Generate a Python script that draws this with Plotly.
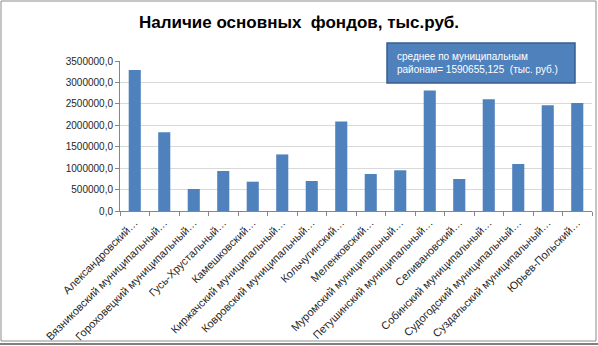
import plotly.graph_objects as go

# Муниципальные районы и наличие основных фондов, тыс. руб.
districts = [
    "Александровский…",
    "Вязниковский муниципальный…",
    "Гороховецкий муниципальный…",
    "Гусь-Хрустальный…",
    "Камешковский…",
    "Киржачский муниципальный…",
    "Ковровский муниципальный…",
    "Кольчугинский…",
    "Меленковский…",
    "Муромский муниципальный…",
    "Петушинский муниципальный…",
    "Селивановский…",
    "Собинский муниципальный…",
    "Судогодский муниципальный…",
    "Суздальский муниципальный…",
    "Юрьев-Польский…",
]
fixed_assets = [
    3290000, 1836000, 513000, 933000, 684000, 1320000, 700000, 2090000,
    863000, 950000, 2810000, 747000, 2610000, 1097000, 2470000, 2520000,
]
y_ticks = [0, 500000, 1000000, 1500000, 2000000, 2500000, 3000000, 3500000]
y_tick_labels = ["0,0", "500000,0", "1000000,0", "1500000,0", "2000000,0",
                 "2500000,0", "3000000,0", "3500000,0"]
mean_note = "среднее по муниципальным<br>районам= 1590655,125  (тыс. руб.)"

W, H = 598, 346
L, R, T, B = 120, 6, 61, 135
pw, ph = W - L - R, H - T - B


def px_x(x):
    return (x - L) / pw


def px_y(y):
    return (H - B - y) / ph


FONT = "Liberation Sans"

fig = go.Figure(
    go.Bar(
        x=districts,
        y=fixed_assets,
        marker=dict(color="#4F81BD", line=dict(width=0)),
    )
)

fig.update_layout(
    width=W,
    height=H,
    margin=dict(l=L, r=R, t=T, b=B),
    paper_bgcolor="white",
    plot_bgcolor="white",
    bargap=0.59,
    showlegend=False,
    font=dict(family=FONT, color="#404040", size=10),
    title=dict(
        text="<b>Наличие основных  фондов, тыс.руб.</b>",
        x=0.5,
        xref="container",
        xanchor="center",
        y=1 - 22 / H,
        yanchor="middle",
        font=dict(family=FONT, size=17, color="black"),
    ),
    xaxis=dict(
        type="category",
        tickangle=-45,
        tickson="boundaries",
        ticks="outside",
        ticklen=4,
        tickcolor="#868686",
        showline=True,
        linecolor="#868686",
        linewidth=1,
        showgrid=False,
        automargin=False,
        tickfont=dict(family=FONT, size=11, color="#262626"),
    ),
    yaxis=dict(
        range=[0, 3500000],
        tickvals=y_ticks,
        ticktext=y_tick_labels,
        ticks="outside",
        ticklen=4,
        tickcolor="#868686",
        showline=True,
        linecolor="#868686",
        linewidth=1,
        showgrid=True,
        gridcolor="#D9D9D9",
        gridwidth=1,
        zeroline=False,
        automargin=False,
        tickfont=dict(family=FONT, size=10, color="#262626"),
    ),
    shapes=[
        # рамка области диаграммы
        dict(type="rect", xref="paper", yref="paper",
             x0=px_x(1), x1=px_x(596), y0=px_y(341), y1=px_y(1),
             line=dict(color="#8C8C8C", width=1), fillcolor="rgba(0,0,0,0)",
             layer="below"),
        dict(type="line", xref="paper", yref="paper",
             x0=px_x(0), x1=px_x(598), y0=px_y(344), y1=px_y(344),
             line=dict(color="#7F7F7F", width=2)),
        # подложка выноски со средним значением
        dict(type="rect", xref="paper", yref="paper",
             x0=px_x(387), x1=px_x(575), y0=px_y(83), y1=px_y(43),
             line=dict(color="#385D8A", width=1.5), fillcolor="#4F81BD",
             layer="above"),
    ],
    annotations=[
        dict(text=mean_note, xref="paper", yref="paper",
             x=px_x(395), y=px_y(63), xanchor="left", yanchor="middle",
             align="left", showarrow=False,
             font=dict(family=FONT, size=10, color="white")),
    ],
)

fig.write_html("out.html")
